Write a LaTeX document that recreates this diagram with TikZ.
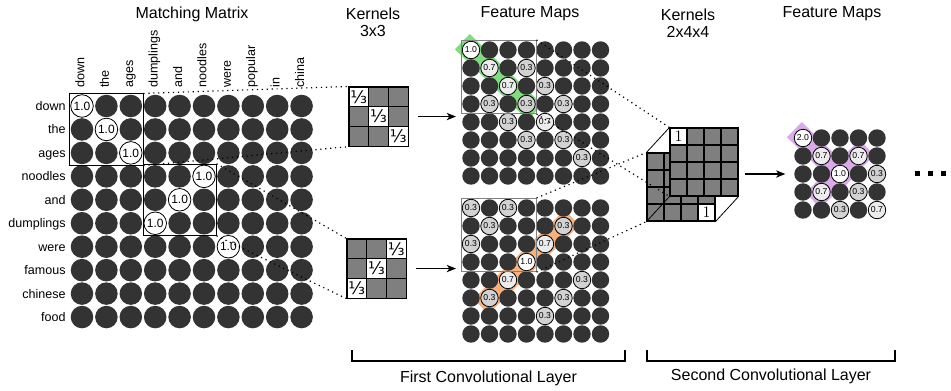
\documentclass[tikz,border=0pt]{standalone}
\usepackage{fontspec}
\setsansfont{Liberation Sans}
\renewcommand{\familydefault}{\sfdefault}
\newfontfamily\djvfont{DejaVu Sans}
\usetikzlibrary{positioning}
\usetikzlibrary{fit}
\usetikzlibrary{backgrounds}
\usetikzlibrary{arrows.meta}

\definecolor{darkdot}{HTML}{333333}
\definecolor{kgray}{HTML}{7F7F7F}
\definecolor{bandgreen}{HTML}{80DC80}
\definecolor{bandorange}{HTML}{F8B07C}
\definecolor{bandpurple}{HTML}{DCAAEA}

\newcommand{\third}{{\djvfont\fontsize{13}{13}\selectfont ⅓}}

\tikzset{
  mcirc/.style={circle, fill=darkdot, inner sep=0pt, minimum size=16.9pt},
  mone/.style={mcirc, fill=white, draw=black, line width=0.6pt, font=\sffamily\fontsize{9}{9}\selectfont},
  fcirc/.style={circle, fill=darkdot, inner sep=0pt, minimum size=13.1pt},
  fone/.style={fcirc, fill=white, draw=black, line width=0.6pt, font=\sffamily\fontsize{6.5}{6.5}\selectfont},
  fhi/.style={fone, fill=gray!15},
  flo/.style={fone, fill=gray!35},
  kcell/.style={rectangle, draw=black, line width=0.8pt, fill=kgray, inner sep=0pt, minimum size=14.8pt},
  ccell/.style={kcell, minimum size=12.75pt, font=\rmfamily\fontsize{12}{12}\selectfont},
  win/.style={draw=black, line width=0.6pt, inner sep=0.5pt},
  fwin/.style={draw=gray, line width=0.6pt, inner sep=0.5pt},
  link/.style={line width=0.9pt, dash pattern=on 0.9pt off 2.8pt},
  hiband/.style={line width=16pt, line cap=rect, shorten <=-1pt, shorten >=-1pt},
  heading/.style={font=\sffamily\fontsize{12}{12.75}\selectfont, align=center},
  wordlbl/.style={font=\sffamily\fontsize{9.4}{10}\selectfont, inner sep=0pt, text height=1.5ex, text depth=.25ex},
}

\begin{document}
\begin{tikzpicture}[x=0.75pt, y=-0.75pt, font=\sffamily, >={Stealth[length=7pt, width=5.5pt, inset=2pt]}]
  \useasboundingbox (0,0) rectangle (951,390);

  % Titles
  \node[heading] (t-mm) at (192,14) {Matching Matrix};
  \node[heading] (t-k1) at (373,22.5) {Kernels\\3x3};
  \node[heading] (t-f1) at (530,14) {Feature Maps};
  \node[heading] (t-k2) at (688,23.5) {Kernels\\2x4x4};
  \node[heading] (t-f2) at (832,14) {Feature Maps};

  % Matching matrix
  \foreach \r in {1,...,10}
    \foreach \c in {1,...,10}
      \node[mcirc] (m-\r-\c) at ({82+24.4*(\c-1)},{106+23.45*(\r-1)}) {};
  \foreach \r/\c in {1/1,2/2,3/3,4/6,5/5,6/4,7/7}
    \node[mone] (m-\r-\c-v) at (m-\r-\c) {1.0};
  \foreach \w [count=\r] in {down,the,ages,noodles,and,dumplings,were,famous,chinese,food}
    \node[wordlbl, left=3.5pt of m-\r-1] (row-\r) {\w};
  \foreach \w [count=\c] in {down,the,ages,dumplings,and,noodles,were,popular,in,china}
    \node[wordlbl, rotate=90, anchor=west] (col-\c) at ([xshift=-1.5pt,yshift=5pt]m-1-\c.north) {\w};
  \node[win, fit=(m-1-1)(m-3-3)] (win1) {};
  \node[win, fit=(m-4-4)(m-6-6)] (win2) {};

  % Kernels 3x3
  \foreach \r in {1,2,3}
    \foreach \c in {1,2,3} {
      \ifnum\r=\c\relax
        \node[kcell, fill=white] (ka-\r-\c) at ({358.85+19.7*(\c-1)},{96.85+19.7*(\r-1)}) {\third};
      \else
        \node[kcell] (ka-\r-\c) at ({358.85+19.7*(\c-1)},{96.85+19.7*(\r-1)}) {};
      \fi
      \ifnum\numexpr\r+\c\relax=4
        \node[kcell, fill=white] (kb-\r-\c) at ({356.85+19.7*(\c-1)},{248.85+19.7*(\r-1)}) {\third};
      \else
        \node[kcell] (kb-\r-\c) at ({356.85+19.7*(\c-1)},{248.85+19.7*(\r-1)}) {};
      \fi
    }

  % Feature maps of the first layer
  \foreach \r in {1,...,8}
    \foreach \c in {1,...,8} {
      \node[fcirc] (fa-\r-\c) at ({471+18.5*(\c-1)},{50+18*(\r-1)}) {};
      \node[fcirc] (fb-\r-\c) at ({471+18.5*(\c-1)},{208+18*(\r-1)}) {};
    }
  \node[fone] (fa-1-1-v) at (fa-1-1) {1.0};
  \foreach \r/\c in {2/2,3/3,5/5}
    \node[fhi] (fa-\r-\c-v) at (fa-\r-\c) {0.7};
  \foreach \r/\c in {2/4,3/5,4/2,4/4,4/6,5/3,6/4,6/6,7/7}
    \node[flo] (fa-\r-\c-v) at (fa-\r-\c) {0.3};
  \node[fone] (fb-4-4-v) at (fb-4-4) {1.0};
  \foreach \r/\c in {3/5,5/3}
    \node[fhi] (fb-\r-\c-v) at (fb-\r-\c) {0.7};
  \foreach \r/\c in {1/1,1/3,2/2,2/6,3/1,5/7,6/2,6/6,7/5}
    \node[flo] (fb-\r-\c-v) at (fb-\r-\c) {0.3};
  \node[fwin, fit=(fa-1-1)(fa-4-4)] (boxa) {};
  \node[fwin, fit=(fb-1-1)(fb-4-4)] (boxb) {};

  % Kernels 2x4x4
  \foreach \r in {1,...,4}
    \foreach \c in {1,...,4} {
      \ifnum\numexpr\r*\c\relax=16
        \node[ccell, fill=white] (cb-\r-\c) at ({655.5+17*(\c-1)},{161.5+17*(\r-1)}) {1};
      \else
        \node[ccell] (cb-\r-\c) at ({655.5+17*(\c-1)},{161.5+17*(\r-1)}) {};
      \fi
    }
  \foreach \r in {1,...,4}
    \foreach \c in {1,...,4} {
      \ifnum\numexpr\r*\c\relax=1
        \node[ccell, fill=white] (cf-\r-\c) at ({678.5+17*(\c-1)},{136.5+17*(\r-1)}) {1};
      \else
        \node[ccell] (cf-\r-\c) at ({678.5+17*(\c-1)},{136.5+17*(\r-1)}) {};
      \fi
    }
  \draw[line width=0.6pt] (cb-1-1.north west) -- (cf-1-1.north west);
  \draw[line width=0.6pt] (cb-4-4.south east) -- (cf-4-4.south east);
  \draw[line width=0.6pt] (cb-4-1.south west) -- (cf-4-1.south west);

  % Feature map of the second layer
  \foreach \r in {1,...,5}
    \foreach \c in {1,...,5}
      \node[fcirc] (fc-\r-\c) at ({803+18.5*(\c-1)},{138+18*(\r-1)}) {};
  \node[fone] (fc-1-1-v) at (fc-1-1) {2.0};
  \node[fone] (fc-3-3-v) at (fc-3-3) {1.0};
  \foreach \r/\c in {2/2,2/4,4/2,5/5}
    \node[fhi] (fc-\r-\c-v) at (fc-\r-\c) {0.7};
  \foreach \r/\c in {3/5,4/4,5/3}
    \node[flo] (fc-\r-\c-v) at (fc-\r-\c) {0.3};

  % Highlighted paths
  \begin{scope}[on background layer]
    \draw[hiband, bandgreen] (fa-1-1.center) -- (fa-4-4.center);
    \draw[hiband, bandorange] (fb-6-2.center) -- (fb-2-6.center);
    \draw[hiband, bandpurple] (fc-1-1.center) -- (fc-3-3.center);
    \draw[hiband, bandpurple] (fc-2-4.center) -- (fc-4-2.center);
  \end{scope}

  % Arrows
  \draw[->, line width=0.8pt, shorten <=6.75pt, shorten >=4.5pt] (ka-2-3.east) -- (ka-2-3.east -| fa-5-1.west);
  \draw[->, line width=0.8pt, shorten <=6.75pt, shorten >=4.5pt] (kb-2-3.east) -- (kb-2-3.east -| fb-4-1.west);
  \draw[->, line width=0.8pt, shorten <=5pt, shorten >=6.5pt] (fc-3-1.west -| cf-3-4.east) -- (fc-3-1.west);

  % Dotted links
  \draw[link] (win1.north east) -- (ka-1-1.north west);
  \draw[link] (win1.south east) -- (ka-3-1.south west);
  \draw[link] (win2.north east) -- (kb-1-1.north west);
  \draw[link] (win2.south east) -- (kb-3-1.south west);
  \draw[link] (boxa.north east) -- (cf-1-1.north west);
  \draw[link] (boxa.south east) -- (cf-4-1.south west);
  \draw[link] (boxb.north east) -- (cb-1-1.north west);
  \draw[link] (boxb.south east) -- (cb-4-1.south west);

  % More maps follow
  \foreach \i in {0,1,2}
    \fill ({914.5+13.3*\i},170.5) rectangle ++(5,5);

  % Layers
  \draw[line width=0.8pt] (352,350) -- (352,361) -- (625,361) -- (625,350);
  \draw[line width=0.8pt] (647,350) -- (647,361) -- (895,361) -- (895,350);
  \node[heading] (lay1) at (488.5,378) {First Convolutional Layer};
  \node[heading] (lay2) at (771,376) {Second Convolutional Layer};
\end{tikzpicture}
\end{document}
